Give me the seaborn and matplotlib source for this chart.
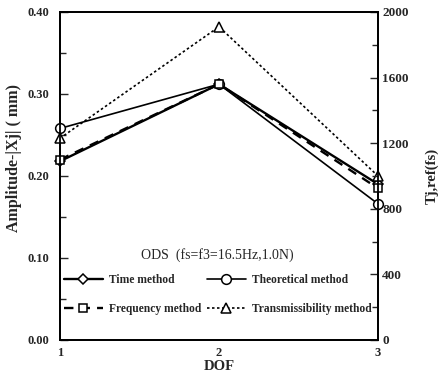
import matplotlib
matplotlib.use("Agg")
import matplotlib.pyplot as plt
import seaborn as sns
import pandas as pd

dof = [1, 2, 3]
time_method = [0.218, 0.312, 0.190]
theoretical_method = [0.258, 0.312, 0.166]
frequency_method = [0.220, 0.312, 0.185]
transmissibility_method = [0.246, 0.382, 0.200]
series_names = ["Time method", "Theoretical method", "Frequency method", "Transmissibility method"]

sns.set_theme(style="white")
plt.rcParams['font.family'] = ['Liberation Serif', 'DejaVu Serif']
plt.rcParams['font.weight'] = 'bold'

fig = plt.figure(figsize=(4.46, 3.77), dpi=100)
ax = fig.add_axes([60/446, 1-340/377, (378-60)/446, (340-12)/377])

styles = {
    "Time method": dict(marker="D", ls="-", lw=1.7, ms=5),
    "Theoretical method": dict(marker="o", ls="-", lw=1.2, ms=7),
    "Frequency method": dict(marker="s", ls=(0, (4, 3)), lw=1.7, ms=6),
    "Transmissibility method": dict(marker="^", ls=(0, (1.5, 1.5)), lw=1.2, ms=7),
}
data = {"Time method": time_method, "Theoretical method": theoretical_method,
        "Frequency method": frequency_method, "Transmissibility method": transmissibility_method}

handles = {}
for name in series_names:
    df = pd.DataFrame({"DOF": dof, "val": data[name]})
    st = styles[name]
    sns.lineplot(data=df, x="DOF", y="val", ax=ax, color="black", marker=st["marker"],
                 markersize=st["ms"], markerfacecolor="white", markeredgecolor="black",
                 markeredgewidth=1.1, linewidth=st["lw"], linestyle=st["ls"], label=name,
                 clip_on=False, zorder=3)
    handles[name] = ax.lines[-1]

ax.set_xlim(1, 3)
ax.set_ylim(0, 0.40)
ax.set_xticks([1, 2, 3])
ax.set_xticks([1.5, 2.5], minor=True)
ax.set_yticks([0, 0.1, 0.2, 0.3, 0.4])
ax.set_yticklabels(["0.00", "0.10", "0.20", "0.30", "0.40"])
ax.set_yticks([0.05, 0.15, 0.25, 0.35], minor=True)
ax.tick_params(axis="both", which="both", direction="in", width=1.0, labelsize=9)
ax.tick_params(axis="both", which="major", length=6)
ax.tick_params(axis="both", which="minor", length=4)
ax.tick_params(axis="x", pad=5)
ax.tick_params(axis="y", pad=8)
for sp in ax.spines.values():
    sp.set_color("black")
    sp.set_linewidth(1.3)

ax.set_xlabel("DOF", fontsize=10.5, fontweight="bold", labelpad=1)
ax.set_ylabel("Amplitude-|Xj| ( mm)", fontsize=11.5, fontweight="bold")
ax.yaxis.set_label_coords(-0.118, 0.555)

ax2 = ax.twinx()
ax2.set_ylim(0, 2000)
ax2.set_yticks([0, 400, 800, 1200, 1600, 2000])
ax2.set_yticks([200, 600, 1000, 1400, 1800], minor=True)
ax2.tick_params(axis="y", which="both", direction="in", width=1.0, labelsize=9.5, pad=3)
ax2.tick_params(axis="y", which="major", length=6)
ax2.tick_params(axis="y", which="minor", length=4)
for sp in ax2.spines.values():
    sp.set_color("black")
    sp.set_linewidth(1.3)
ax2.set_ylabel("Tj,ref(fs)", fontsize=10.5, fontweight="bold", rotation=90, labelpad=8)
ax2.yaxis.set_label_coords(1.15, 0.5)

order = ["Time method", "Frequency method", "Theoretical method", "Transmissibility method"]
leg = ax.legend([handles[n] for n in order], order, ncol=2, loc="upper left",
                bbox_to_anchor=(-0.01, 0.30), frameon=False, fontsize=8.3,
                title="ODS  (fs=f3=16.5Hz,1.0N)", title_fontsize=10,
                handlelength=3.4, labelspacing=1.55, columnspacing=0.5, handletextpad=0.5,
                borderaxespad=0.2)
leg.get_title().set_fontweight("normal")
leg._legend_box.sep = 8

fig.savefig("out.png", dpi=100)
